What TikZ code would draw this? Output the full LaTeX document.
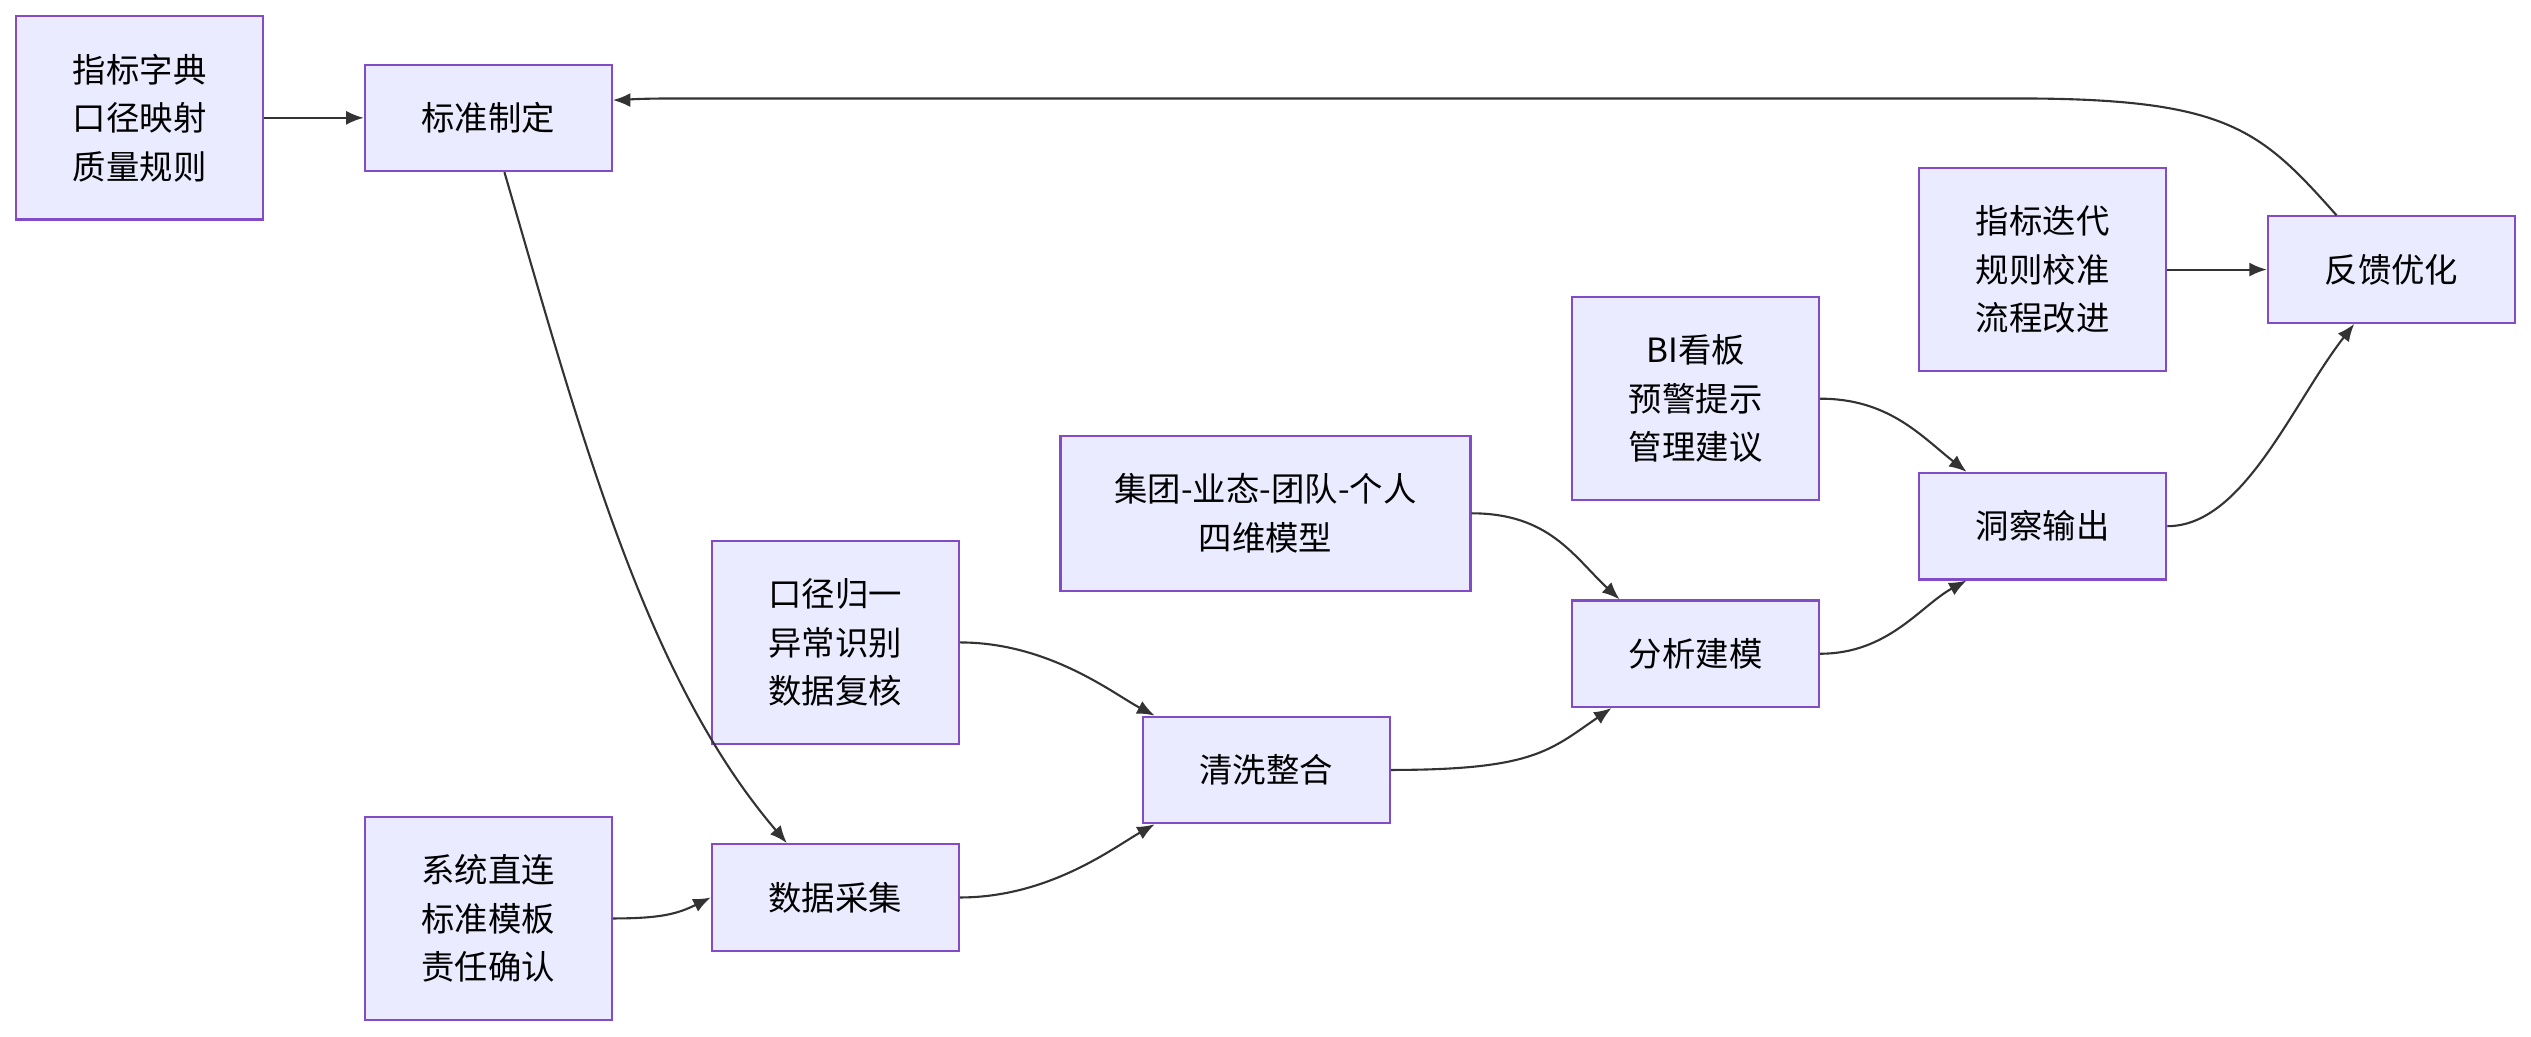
\documentclass[tikz,border=0pt]{standalone}
\usepackage{fontspec}
\setmainfont{Noto Sans CJK SC}
\usetikzlibrary{arrows.meta}
\tikzset{box/.style={draw=violet!60!blue!70,fill=blue!8,line width=0.6pt,align=center,
  inner sep=0pt,font=\fontsize{9.5}{13.8}\selectfont}}
\tikzset{link/.style={-{Latex[length=5pt,width=4pt]},line width=0.6pt,draw=black!80}}
\begin{document}
\begin{tikzpicture}[x=0.01614cm,y=-0.01614cm]
            % bounding box
            \useasboundingbox (0,0) rectangle (1568,642);
            % inputs and steps
            \node[box,minimum width=153*0.01614cm,minimum height=126*0.01614cm] (dict) at (86.5,73) {指标字典\\口径映射\\质量规则};
            \node[box,minimum width=153*0.01614cm,minimum height=66*0.01614cm] (std) at (302.5,73) {标准制定};
            \node[box,minimum width=153*0.01614cm,minimum height=126*0.01614cm] (sys) at (302.5,569) {系统直连\\标准模板\\责任确认};
            \node[box,minimum width=153*0.01614cm,minimum height=66*0.01614cm] (collect) at (517.5,556) {数据采集};
            \node[box,minimum width=153*0.01614cm,minimum height=126*0.01614cm] (rules) at (517.5,398) {口径归一\\异常识别\\数据复核};
            \node[box,minimum width=153*0.01614cm,minimum height=66*0.01614cm] (clean) at (784.5,477) {清洗整合};
            \node[box,minimum width=254*0.01614cm,minimum height=96*0.01614cm] (model) at (784,318) {集团-业态-团队-个人\\四维模型};
            \node[box,minimum width=153*0.01614cm,minimum height=66*0.01614cm] (analysis) at (1050.5,405) {分析建模};
            \node[box,minimum width=153*0.01614cm,minimum height=126*0.01614cm] (bi) at (1050.5,247) {BI看板\\预警提示\\管理建议};
            \node[box,minimum width=153*0.01614cm,minimum height=66*0.01614cm] (insight) at (1265.5,326) {洞察输出};
            \node[box,minimum width=153*0.01614cm,minimum height=126*0.01614cm] (iter) at (1265.5,167) {指标迭代\\规则校准\\流程改进};
            \node[box,minimum width=153*0.01614cm,minimum height=66*0.01614cm] (feedback) at (1481.5,167) {反馈优化};
            % connectors
            \draw[link] (dict) -- (std);
            \draw[link] ([xshift=10*0.01614cm]std.south) .. controls (360,270) and (400,420) .. ([xshift=-30*0.01614cm]collect.north);
            \draw[link] (sys.east) ++(0,0) .. controls (410,569) and (420,566) .. (collect.west);
            \draw[link] (rules.east) .. controls (650,398) and (690,430) .. ([xshift=8*0.01614cm]clean.north west);
            \draw[link] (collect.east) .. controls (650,556) and (690,525) .. ([xshift=8*0.01614cm]clean.south west);
            \draw[link] (model.east) .. controls (960,318) and (975,345) .. ([xshift=30*0.01614cm]analysis.north west);
            \draw[link] (clean.east) .. controls (950,477) and (960,465) .. ([xshift=25*0.01614cm]analysis.south west);
            \draw[link] (bi.east) .. controls (1170,247) and (1190,270) .. ([xshift=30*0.01614cm]insight.north west);
            \draw[link] (analysis.east) .. controls (1170,405) and (1190,375) .. ([xshift=30*0.01614cm]insight.south west);
            \draw[link] (insight.east) .. controls (1390,326) and (1420,250) .. ([xshift=-23*0.01614cm]feedback.south);
            \draw[link] (iter) -- (feedback);
            \draw[link] ([xshift=-34*0.01614cm]feedback.north) .. controls (1400,80) and (1380,61) .. (1250,61) -- (420,61) .. controls (390,61) and (385,62) .. (std.east |- 0,62);
\end{tikzpicture}
\end{document}
